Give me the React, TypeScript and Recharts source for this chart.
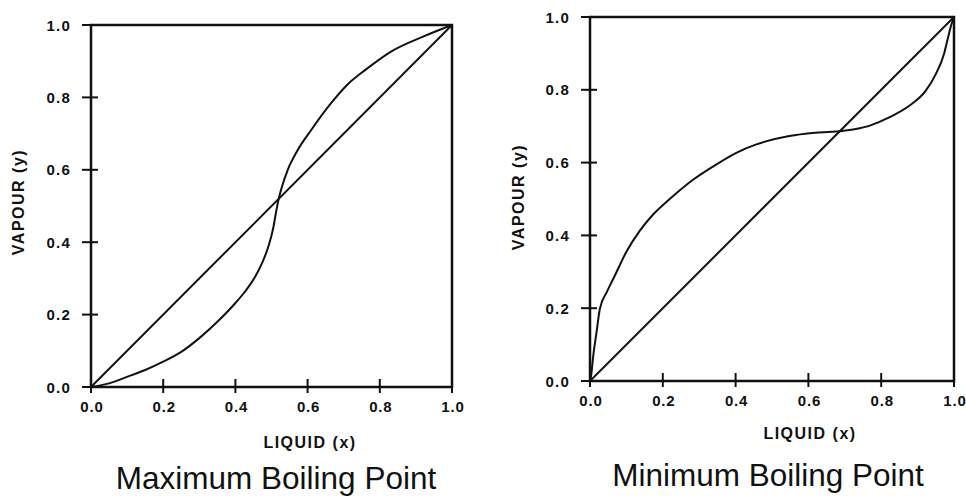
import { LineChart, Line, XAxis, YAxis, ReferenceArea } from 'recharts';

// shared axis ticks
const axisTicks = [0, 0.2, 0.4, 0.6, 0.8, 1.0];
const tickLabels = ['0.0', '0.2', '0.4', '0.6', '0.8', '1.0'];

// diagonal y = x
const diagX = [0, 1];
const diagY = [0, 1];

// Maximum boiling point curve
const maxBoilX = [0, 0.05, 0.1, 0.15, 0.2, 0.25, 0.3, 0.35, 0.4, 0.43, 0.455, 0.475, 0.492, 0.505, 0.513, 0.52, 0.528, 0.545, 0.57, 0.61, 0.665, 0.71, 0.76, 0.83, 0.92, 1];
const maxBoilY = [0, 0.01, 0.028, 0.047, 0.07, 0.097, 0.135, 0.18, 0.232, 0.268, 0.305, 0.345, 0.39, 0.44, 0.485, 0.52, 0.55, 0.6, 0.65, 0.71, 0.784, 0.835, 0.876, 0.926, 0.968, 1];

// Minimum boiling point curve
const minBoilX = [0, 0.003, 0.009, 0.018, 0.027, 0.046, 0.068, 0.1, 0.137, 0.174, 0.219, 0.283, 0.347, 0.402, 0.457, 0.548, 0.621, 0.694, 0.767, 0.822, 0.877, 0.922, 0.95, 0.973, 0.984, 0.993, 1];
const minBoilY = [0, 0.015, 0.07, 0.134, 0.198, 0.244, 0.289, 0.355, 0.413, 0.458, 0.5, 0.553, 0.595, 0.627, 0.65, 0.673, 0.682, 0.687, 0.701, 0.724, 0.756, 0.797, 0.843, 0.9, 0.945, 0.98, 1];

const toPoints = (xs: number[], ys: number[]) => xs.map((x, i) => ({ x, y: ys[i] }));

const ink = '#111';
const font = '"Liberation Sans", Arial, sans-serif';

type PanelProps = {
  left: number;
  width: number;
  plotLeft: number;
  plotRight: number;
  plotTop: number;
  plotBottom: number;
  curve: { x: number; y: number }[];
};

function Panel({ left, width, plotLeft, plotRight, plotTop, plotBottom, curve }: PanelProps) {
  const height = 497;
  const yAxisW = 50;
  const xAxisH = 30;
  // axis position inside this panel's own svg
  const axisX = plotLeft - left;

  const YTick = (props: any) => {
    const { y, index } = props;
    return (
      <g>
        <line x1={axisX - 9} x2={axisX + 7} y1={y} y2={y} stroke={ink} strokeWidth={2} />
        <text
          x={axisX - 20}
          y={y}
          textAnchor="end"
          dominantBaseline="central"
          fontFamily={font}
          fontWeight="bold"
          fontSize={15}
          letterSpacing={1.2}
          fill={ink}
        >
          {tickLabels[index]}
        </text>
      </g>
    );
  };

  const XTick = (props: any) => {
    const { x, index } = props;
    return (
      <g>
        <line x1={x} x2={x} y1={plotBottom - 8} y2={plotBottom + 6} stroke={ink} strokeWidth={2} />
        <text
          x={x + 1}
          y={plotBottom + 25}
          textAnchor="middle"
          fontFamily={font}
          fontWeight="bold"
          fontSize={15}
          letterSpacing={0.8}
          fill={ink}
        >
          {tickLabels[index]}
        </text>
      </g>
    );
  };

  return (
    <div style={{ position: 'absolute', left, top: 0, width, height }}>
      <LineChart
        width={width}
        height={height}
        margin={{
          left: plotLeft - left - yAxisW,
          right: left + width - plotRight,
          top: plotTop,
          bottom: height - plotBottom - xAxisH,
        }}
      >
        <XAxis
          type="number"
          dataKey="x"
          domain={[0, 1]}
          ticks={axisTicks}
          height={xAxisH}
          axisLine={false}
          tickLine={false}
          tick={<XTick />}
          interval={0}
        />
        <YAxis
          type="number"
          dataKey="y"
          domain={[0, 1]}
          ticks={axisTicks}
          width={yAxisW}
          axisLine={false}
          tickLine={false}
          tick={<YTick />}
          interval={0}
        />
        <ReferenceArea x1={0} x2={1} y1={0} y2={1} fill="none" stroke={ink} strokeWidth={2.5} />
        <Line
          data={toPoints(diagX, diagY)}
          dataKey="y"
          type="linear"
          stroke={ink}
          strokeWidth={2}
          dot={false}
          isAnimationActive={false}
        />
        <Line
          data={curve}
          dataKey="y"
          type="monotone"
          stroke={ink}
          strokeWidth={2}
          dot={false}
          isAnimationActive={false}
        />
      </LineChart>
    </div>
  );
}

export default function App() {
  return (
    <div style={{ position: 'absolute', left: 0, top: 0, width: 966, height: 497, background: '#fff' }}>
      <Panel
        left={0}
        width={480}
        plotLeft={91}
        plotRight={452}
        plotTop={25}
        plotBottom={387}
        curve={toPoints(maxBoilX, maxBoilY)}
      />
      <Panel
        left={480}
        width={486}
        plotLeft={590}
        plotRight={954}
        plotTop={17}
        plotBottom={381}
        curve={toPoints(minBoilX, minBoilY)}
      />
      <svg width={966} height={497} style={{ position: 'absolute', left: 0, top: 0, pointerEvents: 'none' }}>
        <g fontFamily={font} fill={ink}>
          <text
            x={18}
            y={202}
            transform="rotate(-90 18 202)"
            textAnchor="middle"
            dominantBaseline="central"
            fontWeight="bold"
            fontSize={16}
            letterSpacing={1.5}
          >
            VAPOUR (y)
          </text>
          <text x={310} y={448} textAnchor="middle" fontWeight="bold" fontSize={16} letterSpacing={1.5}>
            LIQUID (x)
          </text>
          <text x={276} y={489} textAnchor="middle" fontSize={31.5}>
            Maximum Boiling Point
          </text>
          <text
            x={518}
            y={197}
            transform="rotate(-90 518 197)"
            textAnchor="middle"
            dominantBaseline="central"
            fontWeight="bold"
            fontSize={16}
            letterSpacing={1.5}
          >
            VAPOUR (y)
          </text>
          <text x={810} y={439} textAnchor="middle" fontWeight="bold" fontSize={16} letterSpacing={1.5}>
            LIQUID (x)
          </text>
          <text x={768} y={486} textAnchor="middle" fontSize={31.5}>
            Minimum Boiling Point
          </text>
        </g>
      </svg>
    </div>
  );
}
